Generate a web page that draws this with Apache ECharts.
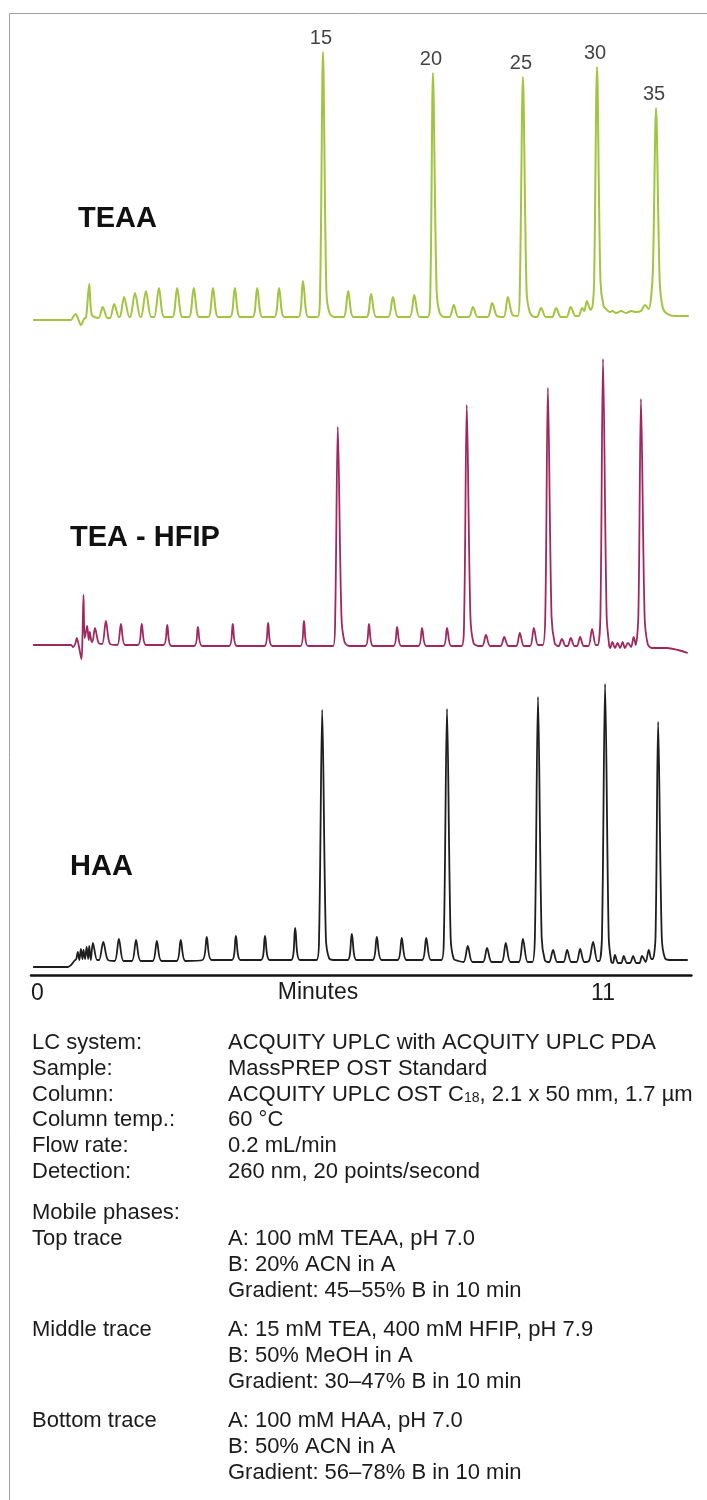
<!DOCTYPE html>
<html>
<head>
<meta charset="utf-8">
<script src="https://cdn.jsdelivr.net/npm/echarts@6/dist/echarts.min.js"></script>
<style>
html,body{margin:0;padding:0;background:#fff;}
#chart{width:707px;height:1500px;}
</style>
</head>
<body>
<div id="chart"></div>
<script>
// ---- DATA (time in minutes, signal in relative absorbance units above baseline) ----
const traceNames = ['TEAA', 'TEA - HFIP', 'HAA'];
const traceColors = ['#a3c440', '#a1285f', '#1e1e1e'];

const teaaTrace = [
  [0.04,0],[0.77,0],[0.81,3],[0.86,6],[0.90,2],[0.96,-5],[1.02,1],[1.06,3],[1.12,36],[1.17,5],
  [1.30,2],[1.38,13],[1.47,2],[1.52,2],[1.60,16],[1.69,3],[1.71,3],[1.79,23],[1.89,3],[1.91,3],
  [2.00,27],[2.10,3],[2.12,3],[2.21,29],[2.31,3],[2.37,3],[2.46,32],[2.56,3],[2.72,3],[2.81,32],
  [2.91,3],[3.04,3],[3.13,32],[3.23,3],[3.41,3],[3.50,32],[3.60,3],[3.83,3],[3.92,32],[4.02,3],
  [4.26,3],[4.35,32],[4.45,3],[4.68,3],[4.77,32],[4.87,3],[5.14,3],[5.23,39],[5.33,3],
  [5.51,3],[5.56,30],[5.615,268],[5.68,30],[5.74,7],[5.84,3],
  [6.01,3],[6.10,29],[6.20,3],[6.45,3],[6.54,26],[6.64,3],[6.87,3],[6.96,23],[7.06,3],[7.28,3],[7.37,25],[7.47,3],
  [7.63,3],[7.68,30],[7.73,247],[7.80,30],[7.86,7],[7.95,3],
  [8.05,3],[8.13,15],[8.22,3],[8.42,3],[8.50,13],[8.59,3],[8.78,3],[8.87,17],[8.96,4],[9.09,3],[9.17,23],[9.26,5],
  [9.36,4],[9.40,30],[9.46,243],[9.53,30],[9.59,8],[9.68,3],
  [9.73,3],[9.81,12],[9.90,3],[10.02,3],[10.10,12],[10.19,3],[10.30,3],[10.38,13],[10.47,4],[10.53,4],
  [10.60,12],[10.64,9],[10.69,19],[10.76,10],
  [10.80,14],[10.83,40],[10.885,253],[10.95,40],[11.01,14],[11.08,10],
  [11.13,8],[11.18,9],[11.25,7],[11.35,9],[11.44,7],[11.54,9],[11.63,8],[11.73,9],[11.81,15],[11.88,11],
  [11.92,20],[11.96,50],[12.02,212],[12.09,40],[12.15,12],[12.24,6],[12.38,4],[12.65,4]
];

const hfipTrace = [
  [0.04,1],[0.77,1],[0.81,-1],[0.85,2],[0.88,8],[0.92,0],[0.97,-13],[0.99,10],[1.01,51],[1.03,8],
  [1.05,12],[1.08,20],[1.11,6],[1.13,14],[1.16,5],[1.18,4],[1.23,18],[1.30,3],[1.37,2],[1.44,25],
  [1.52,2],[1.66,1],[1.73,22],[1.81,1],[2.06,1],[2.13,22],[2.21,1],[2.55,1],[2.62,21],[2.70,0],
  [3.14,0],[3.21,19],[3.29,0],[3.81,0],[3.88,22],[3.96,0],[4.49,0],[4.56,23],[4.64,0],[5.18,0],
  [5.25,25],[5.33,0],
  [5.81,0],[5.85,30],[5.90,219],[5.97,30],[6.03,4],[6.12,0],
  [6.43,0],[6.50,22],[6.58,0],[6.97,0],[7.04,19],[7.12,0],[7.45,0],[7.52,18],[7.60,0],[7.93,0],[8.00,18],[8.08,0],
  [8.28,0],[8.33,30],[8.38,241],[8.45,30],[8.51,3],[8.60,0],
  [8.68,0],[8.75,11],[8.83,0],[9.03,0],[9.10,9],[9.18,0],[9.33,0],[9.40,13],[9.48,0],[9.60,0],[9.67,18],[9.75,1],
  [9.84,1],[9.89,30],[9.94,258],[10.01,30],[10.07,3],[10.13,0],
  [10.15,0],[10.21,7],[10.28,0],[10.32,0],[10.38,8],[10.45,0],[10.50,0],[10.56,9],[10.63,0],[10.72,0],[10.79,17],[10.86,1],
  [10.90,1],[10.95,30],[11.00,287],[11.07,30],[11.12,0],
  [11.14,-2],[11.18,4],[11.23,-2],[11.28,3],[11.33,-2],[11.38,4],[11.42,-2],[11.48,3],[11.54,-1],[11.59,9],[11.63,1],
  [11.68,30],[11.73,247],[11.80,30],[11.86,2],[11.94,-2],[12.23,-2],[12.44,-4],[12.63,-7]
];

const haaTrace = [
  [0.04,0],[0.71,0],[0.77,2],[0.83,6],[0.87,8],[0.90,15],[0.93,7],[0.96,18],[0.99,8],[1.01,17],
  [1.04,8],[1.07,20],[1.10,8],[1.12,21],[1.15,7],[1.19,24],[1.27,7],[1.31,7],[1.39,25],[1.48,7],
  [1.61,6],[1.69,28],[1.78,6],[1.94,6],[2.02,27],[2.11,6],[2.34,6],[2.42,26],[2.51,6],[2.80,6],
  [2.88,27],[2.97,6],[3.30,7],[3.38,30],[3.47,7],[3.86,7],[3.94,31],[4.03,7],[4.42,7],[4.50,31],
  [4.59,7],[5.00,7],[5.08,39],[5.17,7],
  [5.49,7],[5.54,30],[5.60,257],[5.67,30],[5.73,9],[5.82,7],
  [6.09,7],[6.17,33],[6.26,7],[6.57,7],[6.65,30],[6.74,7],[7.05,7],[7.13,29],[7.22,7],[7.52,7],[7.60,29],[7.69,7],
  [7.89,7],[7.94,30],[8.00,258],[8.07,30],[8.13,8],[8.22,6],
  [8.32,5],[8.40,21],[8.49,5],[8.69,5],[8.77,19],[8.86,5],[9.05,5],[9.13,24],[9.22,5],[9.38,5],[9.46,28],[9.55,5],
  [9.64,5],[9.69,30],[9.75,270],[9.82,30],[9.88,7],[9.94,5],
  [9.97,5],[10.04,17],[10.12,5],[10.24,5],[10.31,17],[10.39,5],[10.49,5],[10.56,18],[10.64,5],[10.73,6],[10.81,25],[10.89,6],
  [10.93,6],[10.98,30],[11.04,283],[11.11,30],[11.16,5],
  [11.19,4],[11.23,12],[11.29,4],[11.35,4],[11.40,11],[11.46,4],[11.52,4],[11.58,11],[11.64,4],[11.70,4],[11.75,11],[11.82,5],[11.88,17],[11.93,8],
  [11.96,8],[12.01,30],[12.06,245],[12.13,30],[12.19,9],[12.28,7],[12.63,7]
];

// Oligonucleotide length labels on the top trace
const peakLabels = ['15', '20', '25', '30', '35'];
const peakTimes = [5.615, 7.73, 9.46, 10.885, 12.02];
const peakHeights = [268, 247, 243, 253, 212];

// Time axis tick labels
const tickValues = [0, 11];
const tickLabels = ['0', '11'];
const axisTitle = 'Minutes';

// Conditions text
const specLabels = ['LC system:', 'Sample:', 'Column:', 'Column temp.:', 'Flow rate:', 'Detection:'];
const specValues = ['ACQUITY UPLC with ACQUITY UPLC PDA', 'MassPREP OST Standard',
  'ACQUITY UPLC OST C{sub|18}, 2.1 x 50 mm, 1.7 µm', '60 °C', '0.2 mL/min', '260 nm, 20 points/second'];
const mobileTitle = 'Mobile phases:';
const phaseLabels = ['Top trace', 'Middle trace', 'Bottom trace'];
const phaseLines = [
  ['A: 100 mM TEAA, pH 7.0', 'B: 20% ACN in A', 'Gradient: 45–55% B in 10 min'],
  ['A: 15 mM TEA, 400 mM HFIP, pH 7.9', 'B: 50% MeOH in A', 'Gradient: 30–47% B in 10 min'],
  ['A: 100 mM HAA, pH 7.0', 'B: 50% ACN in A', 'Gradient: 56–78% B in 10 min']
];

// ---- CHART ----
const FONT = "'Liberation Sans', Arial, Helvetica, sans-serif";
const TXT = '#1c1a1b';
const chart = echarts.init(document.getElementById('chart'), null, {renderer: 'canvas'});

const gridLeft = 31, gridWidth = 660.4;
const grids = [
  {left: gridLeft, width: gridWidth, top: 20, height: 315},
  {left: gridLeft, width: gridWidth, top: 336, height: 330},
  {left: gridLeft, width: gridWidth, top: 667, height: 308}
];
const yRanges = [[-15, 300], [-20, 310], [-8, 300]];
const traces = [teaaTrace, hfipTrace, haaTrace];
const traceLabelPos = [[78, 219], [70, 538], [70, 867]];
const lineWidths = [2, 1.8, 1.8];

const xAxes = grids.map((g, i) => ({
  type: 'value', gridIndex: i, min: 0, max: 12.7,
  show: i === 2,
  axisLine: {show: true, onZero: false, lineStyle: {color: '#111', width: 2.5}},
  axisTick: {show: false},
  splitLine: {show: false},
  axisLabel: {
    show: i === 2,
    customValues: tickValues,
    formatter: v => tickLabels[tickValues.indexOf(v)],
    alignMinLabel: 'left',
    fontSize: 23, fontFamily: FONT, color: TXT, margin: 7
  }
}));
const yAxes = grids.map((g, i) => ({
  type: 'value', gridIndex: i, min: yRanges[i][0], max: yRanges[i][1], show: false
}));

const series = traces.map((d, i) => ({
  name: traceNames[i],
  type: 'line', xAxisIndex: i, yAxisIndex: i,
  data: d, symbol: 'none', smooth: 0.3,
  lineStyle: {color: traceColors[i], width: lineWidths[i]},
  animation: false, silent: true
}));
series.push({
  type: 'scatter', xAxisIndex: 0, yAxisIndex: 0,
  data: peakTimes.map((t, k) => ({value: [t, peakHeights[k]], name: peakLabels[k]})),
  symbolSize: 0,
  label: {show: true, position: 'top', distance: 4, offset: [-2, 0], formatter: p => p.name,
    fontSize: 20, fontFamily: FONT, color: '#111'},
  animation: false, silent: true
});

const graphics = [];
graphics.push({type: 'rect', shape: {x: 9.5, y: 13.5, width: 720, height: 1500},
  style: {fill: 'none', stroke: '#a0a0a0', lineWidth: 1}, silent: true, z: -1});
traceNames.forEach((n, i) => graphics.push({
  type: 'text', x: traceLabelPos[i][0], y: traceLabelPos[i][1],
  style: {text: n, fontSize: 29, fontWeight: 'bold', fontFamily: FONT, fill: '#111', verticalAlign: 'middle', align: 'left'}
}));
graphics.push({type: 'text', x: 318, y: 993,
  style: {text: axisTitle, fontSize: 23, fontFamily: FONT, fill: TXT, align: 'center', verticalAlign: 'middle'}});

const bodyFont = 22;
const subRich = {sub: {fontSize: 14, fontFamily: FONT, fill: TXT, verticalAlign: 'bottom'}};
function addText(txt, x, y) {
  graphics.push({type: 'text', x: x, y: y,
    style: {text: txt, fontSize: bodyFont, fontFamily: FONT, fill: TXT, align: 'left', verticalAlign: 'middle', rich: subRich}});
}
const specY0 = 1043, specStep = 25.8, col1 = 32, col2 = 228;
specLabels.forEach((l, i) => { addText(l, col1, specY0 + i * specStep); addText(specValues[i], col2, specY0 + i * specStep); });
addText(mobileTitle, col1, 1213);
const phaseY0 = [1239, 1330, 1421];
phaseLabels.forEach((l, i) => {
  addText(l, col1, phaseY0[i]);
  phaseLines[i].forEach((s, j) => addText(s, col2, phaseY0[i] + j * 26));
});

chart.setOption({
  animation: false,
  backgroundColor: '#fff',
  grid: grids,
  xAxis: xAxes,
  yAxis: yAxes,
  series: series,
  graphic: graphics
});
</script>
</body>
</html>
